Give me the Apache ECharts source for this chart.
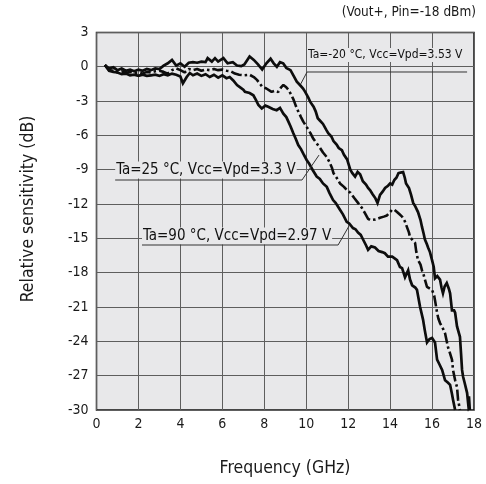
<!DOCTYPE html>
<html><head><meta charset="utf-8">
<script src="https://cdn.jsdelivr.net/npm/echarts/dist/echarts.min.js"></script>
<style>html,body{margin:0;padding:0;background:#fff}#c{width:486px;height:484px}</style>
</head><body><div id="c"></div>
<script>
// Frequency (GHz) / relative sensitivity (dB) for each condition
const freqM20 = [0.4,0.6,0.8,1.0,1.2,1.4,1.6,1.8,2.0,2.2,2.4,2.6,2.8,3.0,3.2,3.4,3.6,3.8,4.0,4.2,4.4,4.6,4.8,5.0,5.2,5.3,5.5,5.65,5.8,6.05,6.25,6.5,6.7,6.9,7.05,7.3,7.5,7.7,7.9,8.1,8.3,8.45,8.6,8.75,8.9,9.05,9.25,9.4,9.55,9.7,9.85,9.95,10.1,10.2,10.35,10.45,10.55,10.65,10.8,10.95,11.05,11.2,11.3,11.45,11.55,11.7,11.8,11.95,12.1,12.2,12.33,12.45,12.57,12.7,12.85,12.95,13.05,13.15,13.3,13.4,13.52,13.65,13.76,13.9,14.0,14.1,14.2,14.3,14.4,14.5,14.62,14.7,14.76,14.9,15.0,15.1,15.2,15.33,15.45,15.52,15.6,15.66,15.75,15.81,15.9,16.0,16.08,16.14,16.25,16.38,16.45,16.52,16.6,16.7,16.8,16.86,16.95,17.05,17.1,17.19,17.33,17.38,17.43,17.48,17.55,17.67,17.72,17.76,17.8];
const dbM20 = [0.15,-0.15,-0.05,-0.3,-0.15,-0.35,-0.25,-0.4,-0.25,-0.35,-0.2,-0.3,-0.15,-0.2,0.1,0.3,0.6,0.1,0.3,0.0,0.35,0.4,0.35,0.45,0.4,0.75,0.45,0.75,0.45,0.75,0.3,0.4,0.1,0.05,0.2,0.9,0.6,0.2,-0.25,0.3,0.7,0.3,0.0,0.4,0.3,-0.1,-0.3,-0.8,-1.3,-1.6,-1.9,-2.2,-2.7,-3.1,-3.5,-3.9,-4.5,-4.7,-5.0,-5.5,-5.8,-6.1,-6.5,-6.8,-7.1,-7.3,-7.7,-8.1,-9.0,-9.3,-9.6,-9.2,-9.4,-10.0,-10.3,-10.6,-10.8,-11.1,-11.5,-11.9,-11.2,-10.9,-10.6,-10.4,-10.2,-10.3,-9.9,-9.7,-9.3,-9.25,-9.2,-9.7,-10.2,-10.6,-11.2,-11.9,-12.2,-12.7,-13.4,-14.0,-14.6,-15.1,-15.5,-15.8,-16.2,-16.9,-17.5,-18.5,-18.3,-18.6,-19.3,-19.8,-19.2,-18.9,-19.4,-19.8,-21.3,-21.3,-21.5,-22.7,-23.6,-25.0,-26.5,-27.1,-27.6,-28.5,-29.4,-28.8,-30.0];

const freq25 = [0.4,0.6,0.8,1.0,1.2,1.4,1.6,1.8,2.0,2.2,2.4,2.6,2.8,3.0,3.2,3.4,3.6,3.8,4.0,4.2,4.4,4.6,4.8,5.0,5.2,5.4,5.6,5.8,6.0,6.2,6.4,6.6,6.8,7.0,7.3,7.5,7.65,7.8,7.9,8.1,8.35,8.5,8.67,8.8,8.91,9.05,9.15,9.3,9.4,9.5,9.62,9.75,9.86,10.0,10.1,10.2,10.34,10.5,10.66,10.8,10.98,11.1,11.22,11.3,11.45,11.61,11.8,12.0,12.1,12.3,12.47,12.66,12.8,12.95,13.05,13.3,13.52,13.7,13.85,14.0,14.09,14.2,14.33,14.45,14.57,14.7,14.8,14.9,14.95,15.05,15.19,15.25,15.33,15.45,15.52,15.6,15.66,15.76,15.9,16.0,16.1,16.14,16.24,16.3,16.38,16.5,16.62,16.7,16.76,16.85,16.95,17.0,17.1,17.19,17.24,17.33];
const db25 = [0.15,-0.3,-0.35,-0.5,-0.4,-0.55,-0.45,-0.55,-0.5,-0.6,-0.45,-0.5,-0.4,-0.35,-0.45,-0.6,-0.3,-0.15,-0.3,-0.5,-0.2,-0.3,-0.2,-0.35,-0.25,-0.3,-0.2,-0.3,-0.25,-0.35,-0.4,-0.6,-0.7,-0.75,-0.7,-0.9,-1.15,-1.5,-1.75,-1.9,-2.2,-2.1,-2.2,-1.8,-1.6,-1.8,-2.0,-2.5,-2.9,-3.4,-3.9,-4.4,-4.8,-5.2,-5.5,-5.8,-6.3,-6.7,-7.1,-7.5,-7.9,-8.3,-8.8,-9.3,-9.7,-10.2,-10.5,-10.9,-11.0,-11.5,-11.9,-12.35,-12.8,-13.3,-13.4,-13.35,-13.2,-13.1,-13.0,-12.7,-12.5,-12.5,-12.7,-12.9,-13.1,-13.5,-14.0,-14.5,-14.9,-15.1,-15.4,-16.2,-16.9,-17.3,-17.8,-18.2,-18.6,-19.25,-19.4,-19.5,-20.0,-20.4,-21.5,-22.0,-22.4,-22.8,-23.3,-24.0,-24.5,-25.0,-25.6,-26.5,-27.4,-28.0,-29.1,-30.0];

const freq90 = [0.4,0.6,0.8,1.0,1.2,1.4,1.6,1.8,2.0,2.2,2.4,2.6,2.8,3.0,3.2,3.4,3.6,3.8,4.0,4.12,4.3,4.45,4.6,4.8,5.0,5.2,5.4,5.6,5.8,6.0,6.2,6.35,6.52,6.7,6.85,7.0,7.08,7.3,7.48,7.6,7.72,7.88,8.05,8.19,8.4,8.59,8.75,8.91,9.05,9.15,9.25,9.38,9.5,9.62,9.75,9.86,10.02,10.15,10.3,10.5,10.65,10.8,10.98,11.1,11.28,11.4,11.61,11.75,11.93,12.05,12.23,12.35,12.47,12.6,12.71,12.85,12.95,13.1,13.28,13.45,13.62,13.75,13.9,14.1,14.33,14.47,14.57,14.71,14.86,14.95,15.05,15.2,15.28,15.43,15.57,15.65,15.76,15.88,16.0,16.14,16.24,16.35,16.48,16.62,16.75,16.86,16.95,17.0,17.1];
const db90 = [0.15,-0.35,-0.45,-0.5,-0.65,-0.6,-0.75,-0.7,-0.8,-0.7,-0.8,-0.75,-0.7,-0.8,-0.65,-0.75,-0.6,-0.7,-0.85,-1.45,-0.9,-0.55,-0.75,-0.6,-0.8,-0.65,-0.9,-0.7,-0.95,-0.75,-1.0,-0.9,-1.2,-1.6,-1.8,-2.0,-2.2,-2.3,-2.5,-2.9,-3.35,-3.65,-3.4,-3.5,-3.7,-3.8,-3.6,-4.1,-4.4,-4.8,-5.2,-5.8,-6.3,-6.85,-7.2,-7.6,-8.15,-8.5,-9.0,-9.6,-9.8,-10.2,-10.5,-11.0,-11.65,-11.9,-12.5,-12.9,-13.55,-13.7,-14.1,-14.2,-14.5,-14.7,-15.1,-15.6,-16.0,-15.7,-15.8,-16.1,-16.2,-16.3,-16.6,-16.6,-16.9,-17.5,-17.6,-18.4,-17.8,-18.6,-19.1,-19.3,-19.5,-21.0,-22.1,-23.0,-24.1,-23.8,-23.7,-24.1,-25.6,-26.0,-26.5,-27.4,-27.6,-27.8,-28.6,-29.1,-30.0];

const xTicks = [0,2,4,6,8,10,12,14,16,18];
const yTicks = [3,0,-3,-6,-9,-12,-15,-18,-21,-24,-27,-30];

const labelM20 = 'Ta=-20 °C, Vcc=Vpd=3.53 V';
const label25 = 'Ta=25 °C, Vcc=Vpd=3.3 V';
const label90 = 'Ta=90 °C, Vcc=Vpd=2.97 V';
const noteText = '(Vout+, Pin=-18 dBm)';
const xTitle = 'Frequency (GHz)';
const yTitle = 'Relative sensitivity (dB)';

const FONT = '"DejaVu Sans Condensed", "DejaVu Sans", sans-serif';
const pair = (xs, ys) => xs.map((x, i) => [x, ys[i]]);

const chart = echarts.init(document.getElementById('c'), null, {renderer: 'canvas'});
const lineBase = {type: 'line', showSymbol: false, symbol: 'none', animation: false, clip: true};
chart.setOption({
  animation: false,
  backgroundColor: '#ffffff',
  grid: {left: 96.5, top: 32.4, right: 12, bottom: 74, show: true,
         backgroundColor: '#e8e8ea', borderColor: '#111', borderWidth: 1.5},
  xAxis: {type: 'value', min: xTicks[0], max: xTicks[xTicks.length - 1], interval: 2,
    axisLine: {show: false}, axisTick: {show: false},
    axisLabel: {fontFamily: FONT, fontSize: 14, color: '#1a1a1a', margin: 7},
    splitLine: {show: true, lineStyle: {color: '#5e5e5e', width: 1}}},
  yAxis: {type: 'value', min: yTicks[yTicks.length - 1], max: yTicks[0], interval: 3,
    axisLine: {show: false}, axisTick: {show: false},
    axisLabel: {fontFamily: FONT, fontSize: 14, color: '#1a1a1a', margin: 8},
    splitLine: {show: true, lineStyle: {color: '#5e5e5e', width: 1}}},
  series: [
    Object.assign({}, lineBase, {name: labelM20, data: pair(freqM20, dbM20), z: 5,
      lineStyle: {color: '#0d0d0d', width: 2.7, join: 'miter'}}),
    Object.assign({}, lineBase, {name: label25, data: pair(freq25, db25), z: 4,
      lineStyle: {color: '#0d0d0d', width: 2.6, type: [11, 3, 2.5, 3]}}),
    Object.assign({}, lineBase, {name: label90, data: pair(freq90, db90), z: 3,
      lineStyle: {color: '#0d0d0d', width: 2.7, join: 'miter'}})
  ]
});

// annotation anchors in data units
const notes = [
  {text: labelM20, size: 12, at: [10.04, 1.02], line: [[17.67, -0.46], [10.04, -0.46], [9.74, -1.5]]},
  {text: label25, size: 15, at: [0.89, -9.03], line: [[0.89, -9.9], [9.8, -9.9], [10.61, -7.72]]},
  {text: label90, size: 15, at: [2.17, -14.8], line: [[2.17, -15.58], [11.52, -15.58], [12.04, -13.92]]}
];
const px = p => chart.convertToPixel({gridIndex: 0}, p);
const graphics = [];
notes.forEach(n => {
  const a = px(n.at);
  graphics.push({type: 'text', x: a[0], y: a[1], z: 10,
    style: {text: n.text, font: n.size + 'px ' + FONT, fill: '#111',
      align: 'left', verticalAlign: 'middle', backgroundColor: '#e8e8ea', padding: [1, 1, 1, 1]}});
  graphics.push({type: 'polyline', z: 10, shape: {points: n.line.map(px)},
    style: {stroke: '#333', lineWidth: 1, fill: null}});
});
graphics.push({type: 'text', x: 476, y: 12, style: {text: noteText, font: '13.5px ' + FONT,
  fill: '#1a1a1a', align: 'right', verticalAlign: 'middle'}});
graphics.push({type: 'text', x: 285, y: 468, style: {text: xTitle, font: '17.5px ' + FONT,
  fill: '#1a1a1a', align: 'center', verticalAlign: 'middle'}});
graphics.push({type: 'text', x: 28, y: 209, rotation: Math.PI / 2, style: {text: yTitle,
  font: '17.5px ' + FONT, fill: '#1a1a1a', align: 'center', verticalAlign: 'middle'}});
chart.setOption({graphic: graphics});
</script>
</body></html>
